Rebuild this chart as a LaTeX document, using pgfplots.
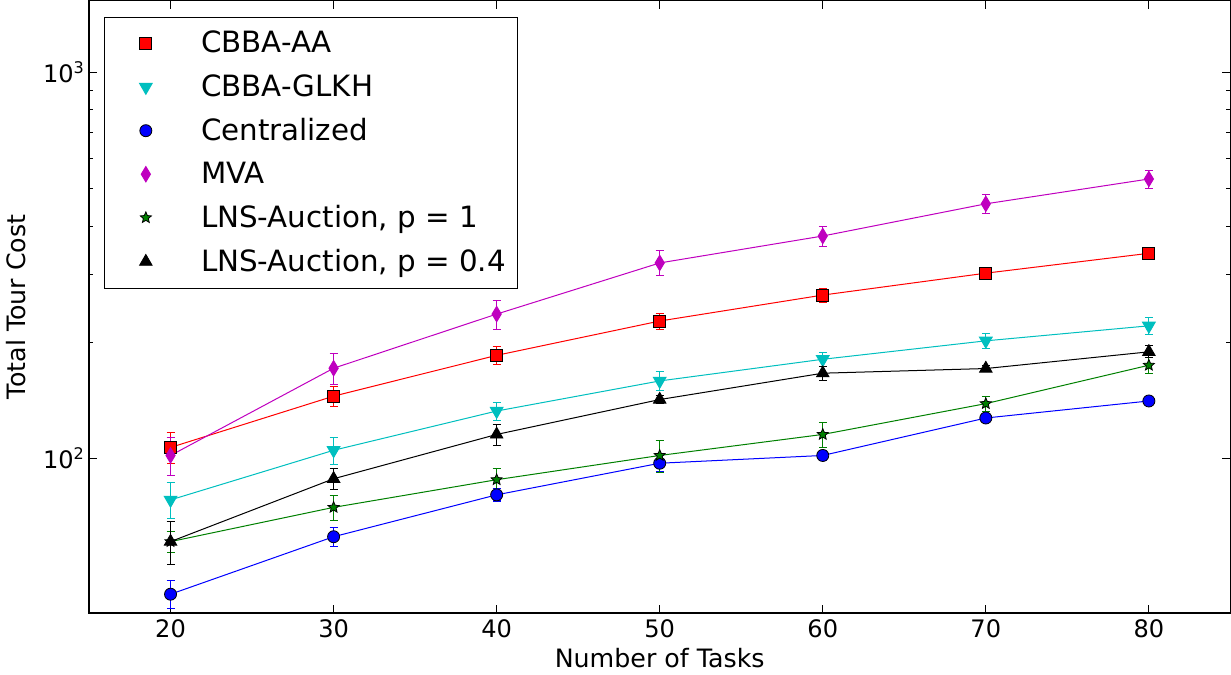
\documentclass[border=0pt]{standalone}
\usepackage{fontspec}
\setmainfont{DejaVu Sans}
\usepackage{pgfplots}
\pgfplotsset{compat=1.18}

\definecolor{mplc}{rgb}{0,0.75,0.75}
\definecolor{mplm}{rgb}{0.75,0,0.75}
\definecolor{mplg}{rgb}{0,0.5,0}

\pgfdeclareplotmark{fstar}{%
  \pgfpathmoveto{\pgfpointpolar{90}{\pgfplotmarksize}}%
  \pgfpathlineto{\pgfpointpolar{126}{0.45\pgfplotmarksize}}%
  \pgfpathlineto{\pgfpointpolar{162}{\pgfplotmarksize}}%
  \pgfpathlineto{\pgfpointpolar{198}{0.45\pgfplotmarksize}}%
  \pgfpathlineto{\pgfpointpolar{234}{\pgfplotmarksize}}%
  \pgfpathlineto{\pgfpointpolar{270}{0.45\pgfplotmarksize}}%
  \pgfpathlineto{\pgfpointpolar{306}{\pgfplotmarksize}}%
  \pgfpathlineto{\pgfpointpolar{342}{0.45\pgfplotmarksize}}%
  \pgfpathlineto{\pgfpointpolar{18}{\pgfplotmarksize}}%
  \pgfpathlineto{\pgfpointpolar{54}{0.45\pgfplotmarksize}}%
  \pgfpathclose
  \pgfusepathqfillstroke}

\pgfplotstableread{
x y e
20 106.8 10
30 145 8.9
40 185 10
50 227 11
60 265 11
70 302 9
80 340 12
}\aa
\pgfplotstableread{
x y e
20 78.1 8.4
30 105 8.5
40 132.7 7.3
50 158.8 8.7
60 180.7 7.8
70 201.7 8.7
80 220.6 10.8
}\glkh
\pgfplotstableread{
x y e
20 44.5 3.7
30 62.7 3.4
40 80.5 2.9
50 97.2 4.5
60 101.8 3.1
70 127.3 2.3
80 140.9 2.5
}\cent
\pgfplotstableread{
x y e
20 101.8 11.6
30 171.3 16
40 236.6 20.5
50 321 24
60 377 23
70 456.7 25
80 529.6 29
}\mva
\pgfplotstableread{
x y e
20 60.9 3.7
30 74.7 5.5
40 88.1 6.3
50 101.8 9.6
60 115.4 8.5
70 138.7 6.3
80 174.4 8.4
}\lnsa
\pgfplotstableread{
x y e
20 60.9 7.7
30 88.6 5.5
40 115.4 7.1
50 142.1 3.4
60 166.3 7
70 171 3
80 188.9 6.8
}\lnsb

\pgfplotsset{
  mpl/.style={line width=0.5pt, color=#1, solid,
    mark options={solid, fill=#1, draw=black, line width=0.4pt},
    error bars/y dir=both, error bars/y explicit,
    error bars/error bar style={#1, solid, line width=0.5pt},
    error bars/error mark options={rotate=90, mark size=2pt, #1, solid, line width=0.5pt}},
}

\begin{document}
\begin{tikzpicture}
\begin{axis}[
  scale only axis,
  width=568.5pt, height=305pt,
  ymode=log,
  xmin=15, xmax=85,
  ymin=39.8, ymax=1535,
  xtick={20,30,40,50,60,70,80},
  ytick={100,1000},
  yticklabels={10\textsuperscript{2},10\textsuperscript{3}},
  tick align=inside,
  major tick length=4pt,
  minor tick length=2pt,
  axis line style={line width=0.6pt},
  every tick/.style={black, line width=0.5pt},
  /pgf/number format/assume math mode=true,
  tick label style={font=\fontsize{12}{14}\selectfont},
  yticklabel style={xshift=1.5pt},
  xlabel={Number of Tasks},
  ylabel={Total Tour Cost},
  label style={font=\fontsize{12.6}{14}\selectfont},
  xlabel style={yshift=2pt},
  ylabel style={yshift=1.5pt},
  legend cell align=left,
  legend style={at={(rel axis cs:0.0132,0.974)}, anchor=north west,
    draw=black, line width=0.6pt,
    font=\fontsize{14.6}{16}\selectfont,
    row sep=5.3pt, inner xsep=4pt, inner ysep=5pt},
  legend image code/.code={\path[draw=none] (0pt,0pt) -- (42pt,0pt);\draw[#1, only marks] plot coordinates {(16.5pt,0pt)};},
]
\addplot[mpl=red, mark=square*, mark size=3pt] table[x=x,y=y,y error=e] {\aa};
\addlegendentry{CBBA-AA}
\addplot[mpl=mplc, mark=triangle*, mark size=3.6pt, mark options={rotate=180}] table[x=x,y=y,y error=e] {\glkh};
\addlegendentry{CBBA-GLKH}
\addplot[mpl=blue, mark=*, mark size=3pt] table[x=x,y=y,y error=e] {\cent};
\addlegendentry{Centralized}
\addplot[mpl=mplm, mark=diamond*, mark size=3.8pt, mark options={xscale=0.8}] table[x=x,y=y,y error=e] {\mva};
\addlegendentry{MVA}
\addplot[mpl=mplg, mark=fstar, mark size=2.9pt] table[x=x,y=y,y error=e] {\lnsa};
\addlegendentry{LNS-Auction, p = 1}
\addplot[mpl=black, mark=triangle*, mark size=3.6pt] table[x=x,y=y,y error=e] {\lnsb};
\addlegendentry{LNS-Auction, p = 0.4}
\end{axis}
\end{tikzpicture}
\end{document}
